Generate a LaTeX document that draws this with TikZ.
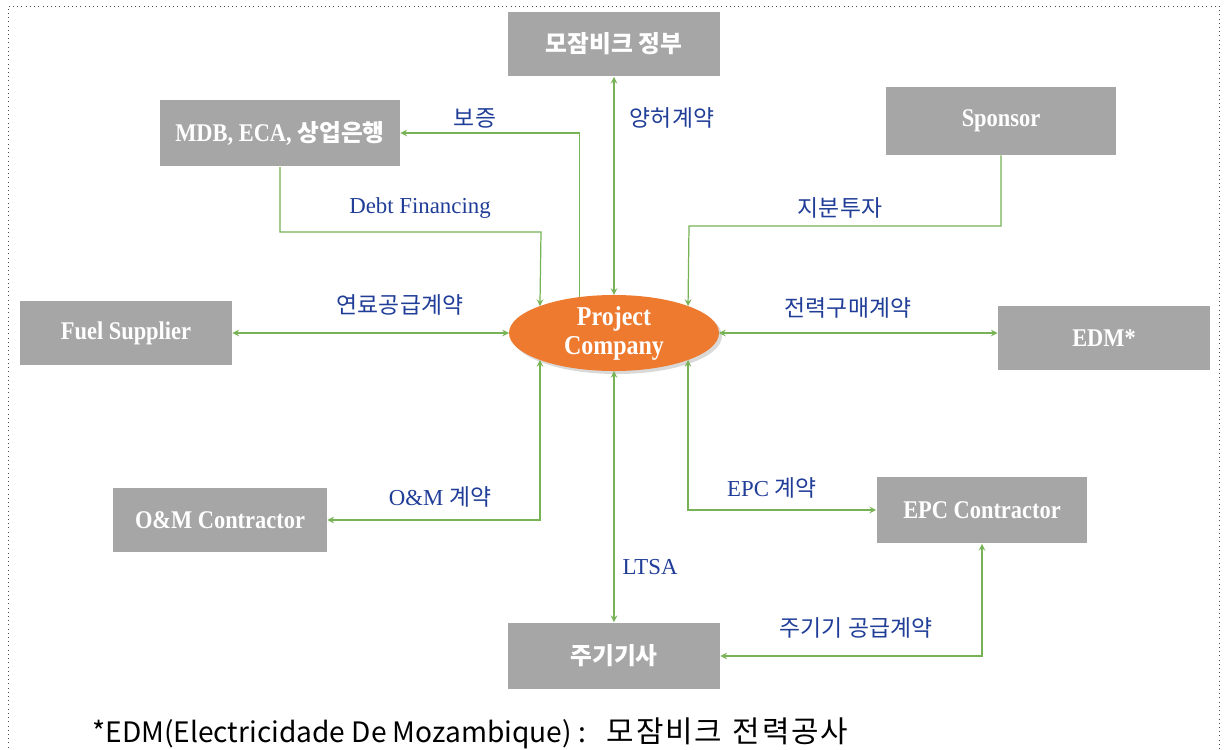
\documentclass[tikz,border=0pt]{standalone}
\usepackage{fontspec}
\setmainfont{Liberation Serif}
\newfontfamily\kr{Noto Sans CJK KR}
\newfontfamily\boxserif[FakeStretch=0.88]{Liberation Serif}
\usetikzlibrary{arrows,shapes.geometric,shadows}
\definecolor{boxgray}{HTML}{A6A6A6}
\definecolor{linkgreen}{HTML}{77B255}
\definecolor{tagblue}{HTML}{203D97}
\definecolor{pcorange}{HTML}{EE7A30}

\begin{document}
\begin{tikzpicture}[x=0.02cm,y=-0.02cm,
  party/.style={fill=boxgray,text=white,minimum width=4.24cm,minimum height=1.3cm,
    inner sep=0pt,font=\boxserif\fontsize{14.5}{16}\selectfont\bfseries},
  link/.style={draw=linkgreen,line width=0.7pt},
  tag/.style={text=tagblue,inner sep=1pt,font=\fontsize{13}{15}\selectfont}]
\useasboundingbox (0,0) rectangle (1225,750);
\draw[dotted,gray!60!black] (8,760) -- (8,6) -- (1219,6) -- (1219,760);

% parties
\node[party] (gov) at (614,44) {\kr\fontsize{13.5}{15}\selectfont 모잠비크 정부};
\node[party,minimum width=4.8cm,minimum height=1.34cm] (mdb) at (280,133) {MDB, ECA, {\kr\fontsize{13.5}{15}\selectfont 상업은행}};
\node[party,minimum width=4.62cm,minimum height=1.36cm] (spon) at (1001,121) {Sponsor};
\node[party] (fuel) at (126,333) {Fuel Supplier};
\node[party] (edm) at (1104,338) {EDM*};
\node[party,minimum width=4.28cm] (om) at (220,520) {O\&M Contractor};
\node[party,minimum width=4.22cm,minimum height=1.34cm] (epc) at (982,510) {EPC Contractor};
\node[party,minimum height=1.34cm] (oem) at (614,656) {\kr\fontsize{13.5}{15}\selectfont 주기기사};
\node[ellipse,fill=pcorange,text=white,minimum width=4.2cm,minimum height=1.52cm,
  inner sep=0pt,outer sep=0pt,align=center,
  drop shadow={opacity=0.3,shadow xshift=0.06cm,shadow yshift=-0.06cm},
  font=\boxserif\fontsize{15.5}{16.5}\selectfont\bfseries] (pc) at (614,333) {Project\\Company};

% contracts
\draw[link,stealth-stealth] (gov.south) -- (pc.north);
\draw[link,-stealth] (pc.134) |- (mdb.east);
\coordinate (dfin) at (541,232);
\draw[link,-stealth] (mdb.south) |- (dfin) -- (pc.160);
\coordinate (eqty) at (689,226);
\draw[link,-stealth] (spon.south) |- (eqty) -- (pc.20);
\draw[link,stealth-stealth] (fuel.east) -- (pc.west);
\draw[link,stealth-stealth] (pc.east) -- (pc.east -| edm.west);
\draw[link,stealth-stealth] (pc.200) |- (om.east);
\draw[link,stealth-stealth] (pc.south) -- (oem.north);
\draw[link,stealth-stealth] (pc.340) |- (epc.west);
\draw[link,stealth-stealth] (epc.south) |- (oem.east);

\node[tag] (tgov) at (672,118) {\kr 양허계약};
\node[tag] (tgua) at (475,118) {\kr 보증};
\node[tag] (tdebt) at (420,208) {Debt Financing};
\node[tag] (teqty) at (840,208) {\kr 지분투자};
\node[tag] (tfuel) at (400,305) {\kr 연료공급계약};
\node[tag] (tppa) at (848,308) {\kr 전력구매계약};
\node[tag] (tom) at (440,497) {O\&M {\kr 계약}};
\node[tag] (tltsa) at (650,567) {LTSA};
\node[tag] (tepc) at (772,488) {EPC {\kr 계약}};
\node[tag] (tsup) at (856,628) {\kr 주기기 공급계약};

\node[anchor=west,inner sep=0pt,font=\kr\fontsize{16}{18}\selectfont] (note) at (92,733)
  {*EDM(Electricidade De Mozambique) :\hspace{12pt}{\fontsize{17}{18}\selectfont\addfontfeature{LetterSpace=6}모잠비크\hspace{6pt}전력공사}};
\end{tikzpicture}
\end{document}
